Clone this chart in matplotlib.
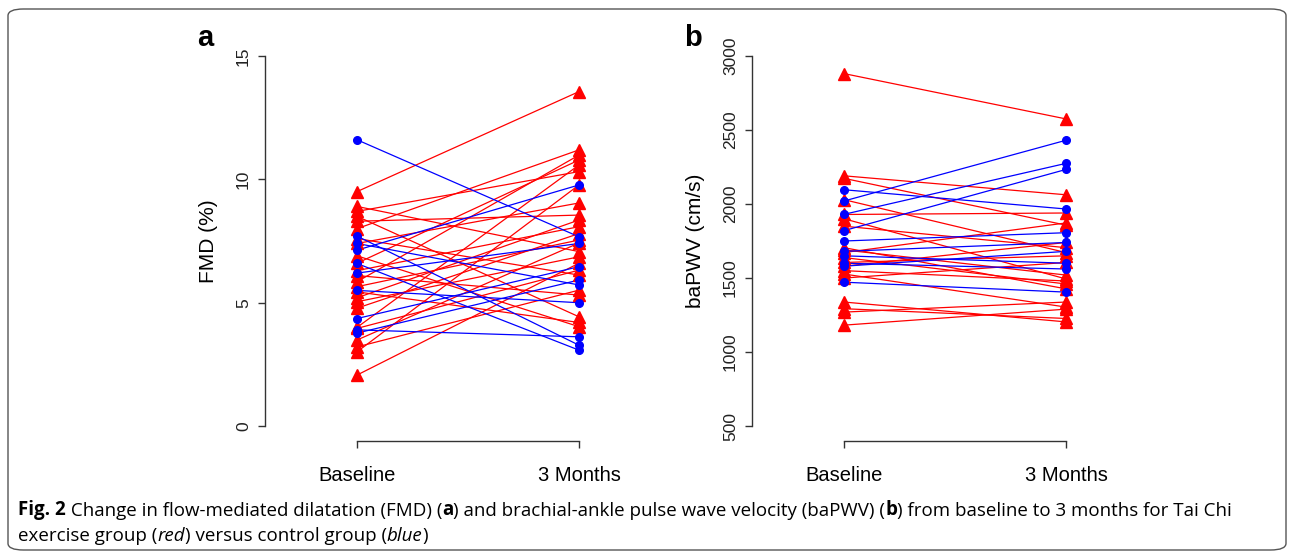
import matplotlib
matplotlib.use('Agg')
import matplotlib.pyplot as plt
from matplotlib.patches import FancyBboxPatch
from matplotlib.text import Annotation

# ---------------- data ----------------
time_labels = ['Baseline', '3 Months']
time_pos = [1, 2]

# Panel a: FMD (%)
fmd_red_base = [9.5, 8.9, 8.7, 8.5, 8.3, 8.0, 7.6, 7.4, 6.9, 6.6, 6.3, 6.1,
                5.85, 5.65, 5.44, 5.2, 5.04, 4.78, 4.0, 3.96, 3.49, 3.21, 3.01, 2.07]
fmd_red_3m = [13.55, 7.07, 10.31, 4.43, 8.55, 11.19, 6.12, 9.04, 4.03, 10.78, 8.08, 5.31,
              10.98, 7.54, 4.2, 8.35, 6.86, 7.8, 10.58, 6.32, 7.42, 5.51, 9.77, 6.6]
fmd_blue_base = [11.6, 7.7, 7.4, 7.13, 6.59, 6.2, 5.5, 4.36, 3.9, 3.77]
fmd_blue_3m = [7.67, 3.28, 5.72, 9.77, 3.08, 7.4, 5.0, 6.46, 3.62, 5.92]

# Panel b: baPWV (cm/s)
pwv_red_base = [2880, 2190, 2173, 2029, 1929, 1900, 1850, 1705, 1672, 1638,
                1605, 1580, 1527, 1500, 1338, 1293, 1270, 1182, 1690, 1550]
pwv_red_3m = [2574, 2062, 1857, 1672, 1939, 1494, 1705, 1427, 1872, 1460,
              1650, 1740, 1304, 1605, 1204, 1227, 1338, 1290, 1520, 1480]
pwv_blue_base = [2020, 1930, 1820, 2096, 1750, 1680, 1600, 1580, 1472, 1650]
pwv_blue_3m = [2430, 2274, 2233, 1966, 1806, 1740, 1561, 1680, 1405, 1600]

fmd_ticks = [0, 5, 10, 15]
pwv_ticks = [500, 1000, 1500, 2000, 2500, 3000]

RED = '#FF0000'
BLUE = '#0000FF'
AXC = '#333333'

plt.rcParams['font.family'] = ['Liberation Sans', 'DejaVu Sans']

W, H = 1292, 555
fig = plt.figure(figsize=(W / 100, H / 100), dpi=100)


def px_axes(l, t, r, b):
    return fig.add_axes([l / W, 1 - b / H, (r - l) / W, (b - t) / H])


def panel(ax, rb, r3, bb, b3, ticks, ylim, ylabel):
    for y0, y1 in zip(rb, r3):
        ax.plot(time_pos, [y0, y1], color=RED, lw=0.9, zorder=2)
    for y0, y1 in zip(bb, b3):
        ax.plot(time_pos, [y0, y1], color=BLUE, lw=0.9, zorder=2)
    for y0, y1 in zip(rb, r3):
        ax.plot(time_pos, [y0, y1], ls='none', marker='^', ms=8.5,
                color=RED, mec=RED, zorder=3)
    for y0, y1 in zip(bb, b3):
        ax.plot(time_pos, [y0, y1], ls='none', marker='o', ms=5.5,
                color=BLUE, mec=BLUE, zorder=3)
    ax.set_xlim(1 - 92 / 222, 2 + 92 / 222)
    ax.set_ylim(*ylim)
    ax.spines['top'].set_visible(False)
    ax.spines['right'].set_visible(False)
    for s in ('left', 'bottom'):
        ax.spines[s].set_color(AXC)
        ax.spines[s].set_linewidth(1.0)
    ax.spines['left'].set_bounds(ticks[0], ticks[-1])
    ax.spines['bottom'].set_bounds(1, 2)
    ax.set_yticks(ticks)
    ax.set_yticklabels([str(t) for t in ticks], rotation=90, va='center',
                       fontsize=12.5, color='#222222')
    ax.set_xticks(time_pos)
    ax.set_xticklabels(time_labels, fontsize=14.5)
    ax.tick_params(axis='y', length=5, width=1, color=AXC, pad=5)
    ax.tick_params(axis='x', length=5, width=1, color=AXC, pad=13)
    ax.set_ylabel(ylabel, fontsize=15)
    ax.yaxis.set_label_coords(-0.115, 0.5)
    ax.patch.set_alpha(0)


ax_a = px_axes(265, 41, 671, 441)
panel(ax_a, fmd_red_base, fmd_red_3m, fmd_blue_base, fmd_blue_3m,
      fmd_ticks, (-0.6, 15.6), 'FMD (%)')

ax_b = px_axes(752, 41, 1158, 441)
panel(ax_b, pwv_red_base, pwv_red_3m, pwv_blue_base, pwv_blue_3m,
      pwv_ticks, (400, 3100), 'baPWV (cm/s)')

fig.text(205 / W, 1 - 38 / H, 'a', fontsize=21, fontweight='bold',
         ha='center', va='center')
fig.text(693 / W, 1 - 38 / H, 'b', fontsize=21, fontweight='bold',
         ha='center', va='center')

# frame
frame = FancyBboxPatch((8 / W, 5 / H), (W - 14) / W, (H - 14) / H,
                       boxstyle='round,pad=0,rounding_size=0.012',
                       transform=fig.transFigure, fill=False,
                       ec='#555555', lw=1.0)
fig.patches.append(frame)

# caption
cap_font = ['Open Sans', 'DejaVu Sans']
cap_size = 13.5

line1 = [('Fig. 2', 'bold', 'normal'),
         (' Change in flow-mediated dilatation (FMD) (', 'normal', 'normal'),
         ('a', 'bold', 'normal'),
         (') and brachial-ankle pulse wave velocity (baPWV) (', 'normal', 'normal'),
         ('b', 'bold', 'normal'),
         (') from baseline to 3 months for Tai Chi', 'normal', 'normal')]
line2 = [('exercise group (', 'normal', 'normal'),
         ('red', 'normal', 'italic'),
         (') versus control group (', 'normal', 'normal'),
         ('blue', 'normal', 'italic'),
         (')', 'normal', 'normal')]


def draw_chain(pieces, x, y):
    prev = None
    for txt, weight, style in pieces:
        if prev is None:
            prev = fig.text(x / W, 1 - y / H, txt, fontsize=cap_size,
                            family=cap_font, fontweight=weight,
                            fontstyle=style, va='baseline', ha='left')
        else:
            prev = fig.add_artist(Annotation(
                txt, xy=(1, 0), xycoords=prev, xytext=(0, 0),
                textcoords='offset points', fontsize=cap_size,
                family=cap_font, fontweight=weight, fontstyle=style,
                va='bottom', ha='left'))


draw_chain(line1, 18, 515)
draw_chain(line2, 18, 541)

fig.savefig('out.png', dpi=100)
